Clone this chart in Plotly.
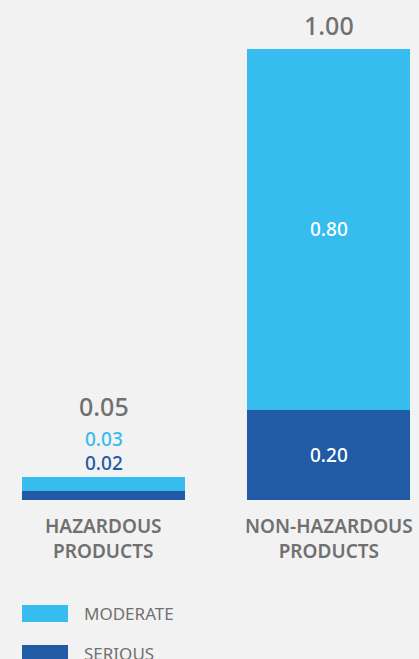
import plotly.graph_objects as go

categories = ["HAZARDOUS<br>PRODUCTS", "NON-HAZARDOUS<br>PRODUCTS"]
serious = [0.02, 0.20]
moderate = [0.03, 0.80]
totals = [0.05, 1.00]

LIGHT = "#36bcee"
DARK = "#215aa5"
GRAY = "#707070"
BG = "#f2f2f2"
FONT = "Noto Sans"

W, H = 419, 659
TOP, BOTTOM = 49, 500  # plot area in pixels

x = list(range(len(categories)))

fig = go.Figure()
fig.add_trace(go.Bar(x=x, y=serious, name="SERIOUS", marker=dict(color=DARK, line=dict(width=0)),
                     width=0.7244))
fig.add_trace(go.Bar(x=x, y=moderate, name="MODERATE", marker=dict(color=LIGHT, line=dict(width=0)),
                     width=0.7244))

ann = []
for i, cat in enumerate(categories):
    # category label under the bar
    ann.append(dict(x=i, y=0, text=cat, showarrow=False, yanchor="top", yshift=-11,
                    font=dict(family=FONT, size=19, color=GRAY, weight=600)))
    if totals[i] < 0.2:
        # thin bar: values stacked above it
        ann.append(dict(x=i, y=totals[i], text=f"{serious[i]:.2f}", showarrow=False,
                        yanchor="middle", yshift=14, font=dict(family=FONT, size=19, color=DARK, weight=500)))
        ann.append(dict(x=i, y=totals[i], text=f"{moderate[i]:.2f}", showarrow=False,
                        yanchor="middle", yshift=38, font=dict(family=FONT, size=19, color=LIGHT, weight=500)))
        ann.append(dict(x=i, y=totals[i], text=f"{totals[i]:.2f}", showarrow=False,
                        yanchor="middle", yshift=71, font=dict(family=FONT, size=25, color=GRAY, weight=500)))
    else:
        ann.append(dict(x=i, y=serious[i] / 2, text=f"{serious[i]:.2f}", showarrow=False,
                        font=dict(family=FONT, size=19, color="white", weight=500)))
        ann.append(dict(x=i, y=serious[i] + moderate[i] / 2, text=f"{moderate[i]:.2f}", showarrow=False,
                        font=dict(family=FONT, size=19, color="white", weight=500)))
        ann.append(dict(x=i, y=totals[i], text=f"{totals[i]:.2f}", showarrow=False,
                        yanchor="middle", yshift=24, font=dict(family=FONT, size=25, color=GRAY, weight=500)))


def py(p):
    # pixel row -> paper y
    return (BOTTOM - p) / (BOTTOM - TOP)


# custom legend
legend_items = [("MODERATE", LIGHT), ("SERIOUS", DARK)]
shapes = []
for k, (label, col) in enumerate(legend_items):
    top = 605 + 40 * k
    shapes.append(dict(type="rect", xref="paper", yref="paper",
                       x0=22 / W, x1=68 / W, y0=py(top + 17), y1=py(top),
                       fillcolor=col, line=dict(width=0), layer="above"))
    ann.append(dict(xref="paper", yref="paper", x=82 / W, y=py(top + 8.5),
                    xanchor="left", yanchor="middle", text=label, showarrow=False,
                    font=dict(family=FONT, size=17, color=GRAY)))

fig.update_layout(
    barmode="stack",
    width=W,
    height=H,
    margin=dict(l=0, r=0, t=TOP, b=H - BOTTOM),
    paper_bgcolor=BG,
    plot_bgcolor=BG,
    showlegend=False,
    annotations=ann,
    shapes=shapes,
    xaxis=dict(range=[-0.46, 1.402], showticklabels=False, showgrid=False, zeroline=False, fixedrange=True),
    yaxis=dict(range=[0, 1.0], visible=False, fixedrange=True),
)

fig.write_html("out.html", config={"displayModeBar": False},
               post_script="document.body.style.margin='0';document.body.style.background='#f2f2f2';")
